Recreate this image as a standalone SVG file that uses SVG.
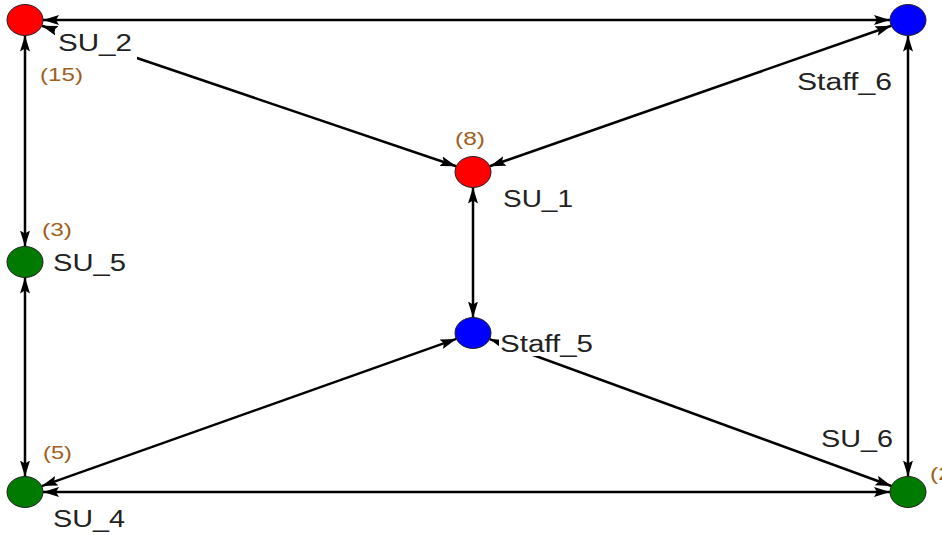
<svg xmlns="http://www.w3.org/2000/svg" width="942" height="535" viewBox="0 0 942 535">
<style>
.edge{stroke:#000;stroke-width:2.5;fill:none;marker-start:url(#ah);marker-end:url(#ah)}
.node{stroke:#222;stroke-width:1}
.red{fill:#ff0000}.blue{fill:#0000ff}.green{fill:#007a00}
.lbl{font-family:"Liberation Sans",Arial,sans-serif;font-size:23px;fill:#222}
.cnt{font-family:"Liberation Sans",Arial,sans-serif;font-size:18px;fill:#a0601e}
.bg{fill:#fff}
</style>
<defs>
<marker id="ah" viewBox="0 0 16 11" refX="16" refY="5.5" markerWidth="16" markerHeight="11" markerUnits="userSpaceOnUse" orient="auto-start-reverse">
<path d="M0,0.5 L16,5.5 L0,10.5 L3,5.5 Z" fill="#000"/>
</marker>
</defs>
<rect width="942" height="535" fill="#fff"/>
<g id="connectors">
<line class="edge" x1="43" y1="20" x2="890" y2="20"/>
<line class="edge" x1="41.8" y1="25.7" x2="456.2" y2="166.3"/>
<line class="edge" x1="891.3" y1="25.8" x2="489.7" y2="166.2"/>
<line class="edge" x1="473" y1="187.5" x2="473" y2="317.5"/>
<line class="edge" x1="25" y1="35.5" x2="25" y2="246.5"/>
<line class="edge" x1="25" y1="277.5" x2="25" y2="476.5"/>
<line class="edge" x1="456.3" y1="338.9" x2="41.7" y2="486.1"/>
<line class="edge" x1="489.6" y1="339.1" x2="891.4" y2="486"/>
<line class="edge" x1="43" y1="492" x2="890" y2="492"/>
<line class="edge" x1="908" y1="35.5" x2="908" y2="476.5"/>
</g>
<g id="SU_2">
<ellipse class="node red" cx="25" cy="20" rx="18" ry="15.5"/>
<rect class="bg" x="55" y="29" width="82" height="31"/>
<text class="lbl" x="58" y="51" textLength="74" lengthAdjust="spacingAndGlyphs">SU_2</text>
<text class="cnt" x="40" y="81" textLength="43" lengthAdjust="spacingAndGlyphs">(15)</text>
</g>
<g id="Staff_6">
<ellipse class="node blue" cx="908" cy="20" rx="18" ry="15.5"/>
<text class="lbl" x="797" y="90" textLength="95" lengthAdjust="spacingAndGlyphs">Staff_6</text>
</g>
<g id="SU_1">
<ellipse class="node red" cx="473" cy="172" rx="18" ry="15.5"/>
<text class="lbl" x="503" y="207" textLength="70" lengthAdjust="spacingAndGlyphs">SU_1</text>
<text class="cnt" x="455" y="145" textLength="30" lengthAdjust="spacingAndGlyphs">(8)</text>
</g>
<g id="SU_5">
<ellipse class="node green" cx="25" cy="262" rx="18" ry="15.5"/>
<text class="lbl" x="53" y="271" textLength="73" lengthAdjust="spacingAndGlyphs">SU_5</text>
<text class="cnt" x="42" y="236" textLength="30" lengthAdjust="spacingAndGlyphs">(3)</text>
</g>
<g id="Staff_5">
<ellipse class="node blue" cx="473" cy="333" rx="18" ry="15.5"/>
<rect class="bg" x="499" y="331" width="97" height="25"/>
<text class="lbl" x="500" y="352" textLength="93" lengthAdjust="spacingAndGlyphs">Staff_5</text>
</g>
<g id="SU_4">
<ellipse class="node green" cx="25" cy="492" rx="18" ry="15.5"/>
<text class="lbl" x="53" y="527" textLength="72" lengthAdjust="spacingAndGlyphs">SU_4</text>
<text class="cnt" x="43" y="459" textLength="29" lengthAdjust="spacingAndGlyphs">(5)</text>
</g>
<g id="SU_6">
<ellipse class="node green" cx="908" cy="492" rx="18" ry="15.5"/>
<text class="lbl" x="821" y="447" textLength="72" lengthAdjust="spacingAndGlyphs">SU_6</text>
<text class="cnt" x="930" y="480" textLength="30" lengthAdjust="spacingAndGlyphs">(2)</text>
</g>
</svg>
